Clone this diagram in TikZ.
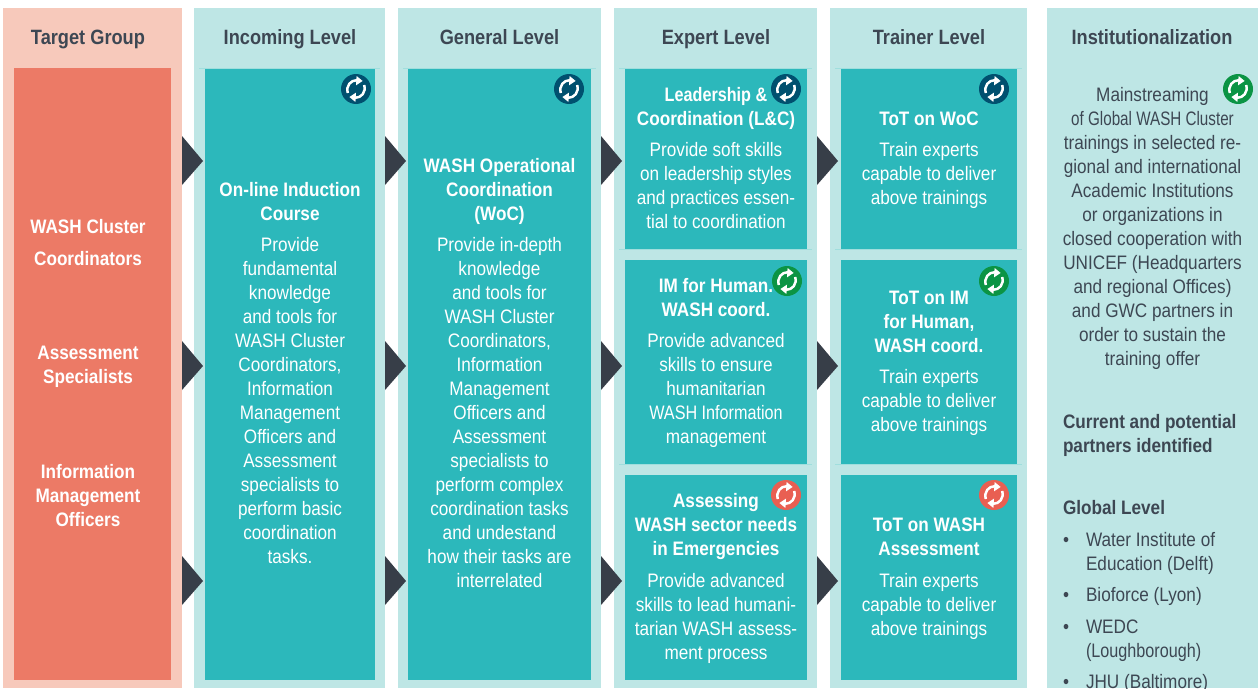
\documentclass[tikz,border=0pt]{standalone}
\usepackage{fontspec}
\setmainfont[FakeStretch=0.88]{Liberation Sans}
\newfontfamily\condfont[FakeStretch=0.78]{Liberation Sans}
\newfontfamily\condbfont[FakeStretch=0.83]{Liberation Sans}
\definecolor{palet}{HTML}{BEE6E5}
\definecolor{teal}{HTML}{2CB8BB}
\definecolor{tealine}{HTML}{A0DEDD}
\definecolor{palesal}{HTML}{F7C9BB}
\definecolor{salmon}{HTML}{EC7A66}
\definecolor{darktri}{HTML}{373E48}
\definecolor{ink}{HTML}{3D4753}
\definecolor{iconblue}{HTML}{00506F}
\definecolor{icongreen}{HTML}{0B9444}
\definecolor{iconred}{HTML}{E95F52}
\tikzset{
  x=1pt,y=-1pt,
  base/.style={inner sep=0pt,outer sep=0pt,align=center,anchor=north},
  head/.style={base,text=ink,font=\fontsize{20.7}{24}\selectfont\bfseries},
  title/.style={base,text=white,font=\fontsize{19.5}{24}\selectfont\bfseries},
  body/.style={base,text=white,font=\fontsize{19.5}{24}\selectfont},
  ibody/.style={base,text=ink,font=\fontsize{19.5}{24}\selectfont},
  ibold/.style={base,align=left,anchor=north west,text=ink,font=\fontsize{19.5}{24}\selectfont\bfseries},
  ilist/.style={base,align=left,anchor=north west,text=ink,font=\fontsize{19.5}{24.5}\selectfont},
  tri/.style={fill=darktri,draw=none},
}
% name, style, x, first baseline, text
\newcommand\blk[5]{\node[#2] (#1) at (#3,#4-17) {\rule{0pt}{17pt}#5};}
\newcommand\syncicon[3]{%
  \fill[#3] (#1,#2) circle[radius=15];
  \begin{scope}[shift={(#1,#2)},line width=2.5pt,draw=white]
    \draw (-8.2,4) .. controls (-10.2,-3) and (-5.5,-9) .. (1,-8.8);
    \fill[white] (0.6,-13) -- (0,-3.6) -- (6.6,-8) -- cycle;
    \draw (8.2,-4) .. controls (10.2,3) and (5.5,9) .. (-1,8.8);
    \fill[white] (-0.6,13) -- (0,3.6) -- (-6.6,8) -- cycle;
  \end{scope}}
\newcommand\triang[2]{\fill[tri] (#1,#2-25) -- (#1+21,#2) -- (#1,#2+24) -- cycle;}
\begin{document}
\begin{tikzpicture}
\useasboundingbox (0,0) rectangle (1258,688);
\fill[white] (0,0) rectangle (1258,688);
% column panels
\fill[palesal] (3,8) rectangle (182,688);
\fill[palet] (194,8) rectangle (385,688);
\fill[palet] (398,8) rectangle (601,688);
\fill[palet] (614,8) rectangle (817,688);
\fill[palet] (830,8) rectangle (1027,688);
\fill[palet] (1047,8) rectangle (1258,688);
% inner blocks
\fill[salmon] (14,68) rectangle (171,680);
\fill[teal] (205,68) rectangle (375,680);
\fill[teal] (408,68) rectangle (591,680);
\fill[teal] (625,68) rectangle (807,249);
\fill[teal] (625,260) rectangle (807,464);
\fill[teal] (625,475) rectangle (807,680);
\fill[teal] (841,68) rectangle (1017,249);
\fill[teal] (841,260) rectangle (1017,464);
\fill[teal] (841,475) rectangle (1017,680);
% faint rules
\draw[tealine,line width=.6pt] (199,68) -- (380,68) (403,68) -- (596,68) (619,68) -- (812,68) (835,68) -- (1022,68);
\draw[tealine,line width=.5pt] (619,249.5) -- (812,249.5) (835,249.5) -- (1022,249.5) (619,464.5) -- (812,464.5) (835,464.5) -- (1022,464.5);
% triangles
\foreach \tx in {182,385,601,817}{\foreach \ty in {161,366,581}{\triang{\tx}{\ty}}}
% headers
\blk{h1}{head}{88}{44}{Target Group}
\blk{h2}{head}{290}{44}{Incoming Level}
\blk{h3}{head}{499.5}{44}{General Level}
\blk{h4}{head}{716}{44}{Expert Level}
\blk{h5}{head}{929}{44}{Trainer Level}
\blk{h6}{head}{1152}{44}{Institutionalization}
% target group
\blk{t1}{title}{88}{233}{WASH Cluster}
\blk{t2}{title}{88}{265}{Coordinators}
\blk{t3}{title}{88}{359}{Assessment\\Specialists}
\blk{t4}{title}{88}{478}{Information\\Management\\Officers}
% incoming
\blk{i1}{title}{290}{196}{On-line Induction\\Course}
\blk{i2}{body}{290}{251}{Provide\\fundamental\\knowledge\\and tools for\\WASH Cluster\\Coordinators,\\Information\\Management\\Officers and\\Assessment\\specialists to\\perform basic\\coordination\\tasks.}
% general
\blk{g1}{title}{499.5}{172}{WASH Operational\\Coordination\\(WoC)}
\blk{g2}{body}{499.5}{251}{Provide in-depth\\knowledge\\and tools for\\WASH Cluster\\Coordinators,\\Information\\Management\\Officers and\\Assessment\\specialists to\\perform complex\\coordination tasks\\and undestand\\how their tasks are\\interrelated}
% expert
\blk{e1}{title}{716}{101}{{\condbfont\bfseries Leadership \&}\\Coordination (L\&C)}
\blk{e2}{body}{716}{156}{Provide soft skills\\on leadership styles\\and practices essen-\\tial to coordination}
\blk{e3}{title}{716}{292}{IM for Human.\\WASH coord.}
\blk{e4}{body}{716}{347}{Provide advanced\\skills to ensure\\humanitarian\\{\condbfont WASH Information}\\management}
\blk{e5}{title}{716}{507}{Assessing\\WASH sector needs\\in Emergencies}
\blk{e6}{body}{716}{587}{Provide advanced\\skills to lead humani-\\tarian WASH assess-\\ment process}
% trainer
\blk{r1}{title}{929}{125}{ToT on WoC}
\blk{r2}{body}{929}{156}{Train experts\\capable to deliver\\above trainings}
\blk{r3}{title}{929}{304}{ToT on IM\\for Human,\\WASH coord.}
\blk{r4}{body}{929}{383}{Train experts\\capable to deliver\\above trainings}
\blk{r5}{title}{929}{531}{ToT on WASH\\Assessment}
\blk{r6}{body}{929}{587}{Train experts\\capable to deliver\\above trainings}
% institutionalization
\blk{n1}{ibody}{1152.5}{101}{Mainstreaming\\{\condfont of Global WASH Cluster}\\trainings in selected re-\\gional and international\\Academic Institutions\\or organizations in\\closed cooperation with\\UNICEF (Headquarters\\and regional Offices)\\and GWC partners in\\order to sustain the\\training offer}
\blk{n2}{ibold}{1063}{428}{Current and potential\\partners identified}
\blk{n3}{ibold}{1063}{514}{Global Level}
\blk{b1}{ilist}{1063}{546}{•}
\blk{l1}{ilist}{1086}{546}{Water Institute of\\Education (Delft)}
\blk{b2}{ilist}{1063}{601}{•}
\blk{l2}{ilist}{1086}{601}{Bioforce (Lyon)}
\blk{b3}{ilist}{1063}{633}{•}
\blk{l3}{ilist}{1086}{633}{WEDC\\{\condbfont (Loughborough)}}
\blk{b4}{ilist}{1063}{688}{•}
\blk{l4}{ilist}{1086}{688}{JHU (Baltimore)}
% icons
\syncicon{356}{89}{iconblue}
\syncicon{569}{89}{iconblue}
\syncicon{786}{89}{iconblue}
\syncicon{994}{89}{iconblue}
\syncicon{787}{281}{icongreen}
\syncicon{994}{281}{icongreen}
\syncicon{786}{495}{iconred}
\syncicon{994}{495}{iconred}
\syncicon{1238}{89}{icongreen}
\end{tikzpicture}
\end{document}
